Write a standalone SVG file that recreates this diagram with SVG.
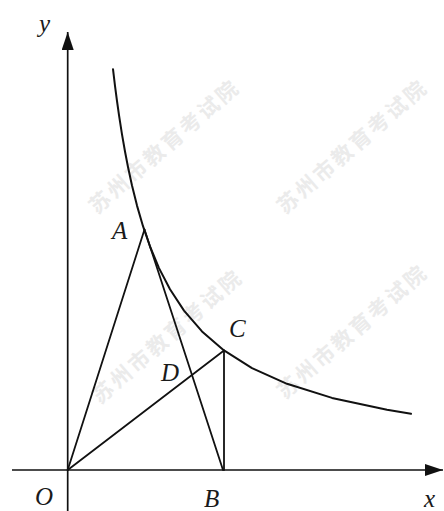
<svg xmlns="http://www.w3.org/2000/svg" width="444" height="511" viewBox="0 0 444 511">
  <style>
    .wm { font-family: "Noto Sans CJK SC", "Noto Sans", sans-serif; font-size: 21px; font-weight: bold; fill: #ebebeb; letter-spacing: 3px; }
    .lbl { font-family: "Liberation Serif", "Times New Roman", serif; font-style: italic; font-size: 25px; fill: #1a1a1a; }
    .ln { stroke: #111111; stroke-width: 1.8; fill: none; stroke-linecap: round; stroke-linejoin: round; }
    .axis { stroke: #111111; stroke-width: 1.7; fill: none; }
    .curve { stroke: #111111; stroke-width: 2; fill: none; stroke-linecap: round; stroke-linejoin: round; }
  </style>
  <defs>
    <marker id="arrow" viewBox="0 0 18 12" refX="18" refY="6" markerWidth="18" markerHeight="12" markerUnits="userSpaceOnUse" orient="auto">
      <path d="M0,0 L18,6 L0,12 Z" fill="#111111"/>
    </marker>
  </defs>
  <rect width="444" height="511" fill="#ffffff"/>
  <g id="watermarks">
    <text class="wm" transform="translate(97,215) rotate(-41)">苏州市教育考试院</text>
    <text class="wm" transform="translate(285,215) rotate(-41)">苏州市教育考试院</text>
    <text class="wm" transform="translate(100,405) rotate(-41)">苏州市教育考试院</text>
    <text class="wm" transform="translate(285,400) rotate(-41)">苏州市教育考试院</text>
  </g>
  <g id="axes">
    <line id="x-axis" class="axis" x1="12" y1="470" x2="443" y2="470" marker-end="url(#arrow)"/>
    <line id="y-axis" class="axis" x1="67.7" y1="511" x2="67.7" y2="32" marker-end="url(#arrow)"/>
  </g>
  <g id="curve">
    <polyline class="curve" points="113,69.2 115,85.8 117,101 119,115.1 122,134.3 125,151.5 128,167 132,185.5 137,205.6 143,226.2 150,246.5 159,268.1 170,289.3 184,310.6 202,331.4 224,350.4 252,368.1 287,383.8 332,397.9 387,409.8 411,413.8"/>
  </g>
  <g id="connectors">
    <line class="ln" x1="67.7" y1="470" x2="144.5" y2="229.5"/>
    <line class="ln" x1="144.5" y1="229.5" x2="223" y2="470"/>
    <line class="ln" x1="67.7" y1="470" x2="224" y2="350.5"/>
    <line class="ln" x1="224" y1="350.5" x2="224" y2="470"/>
  </g>
  <g id="node-y"><text class="lbl" x="39" y="32">y</text></g>
  <g id="node-A"><text class="lbl" x="112" y="239">A</text></g>
  <g id="node-C"><text class="lbl" x="229" y="337">C</text></g>
  <g id="node-D"><text class="lbl" x="161" y="381">D</text></g>
  <g id="node-O"><text class="lbl" x="35" y="505">O</text></g>
  <g id="node-B"><text class="lbl" x="204" y="507">B</text></g>
  <g id="node-x"><text class="lbl" x="424" y="507">x</text></g>
</svg>
